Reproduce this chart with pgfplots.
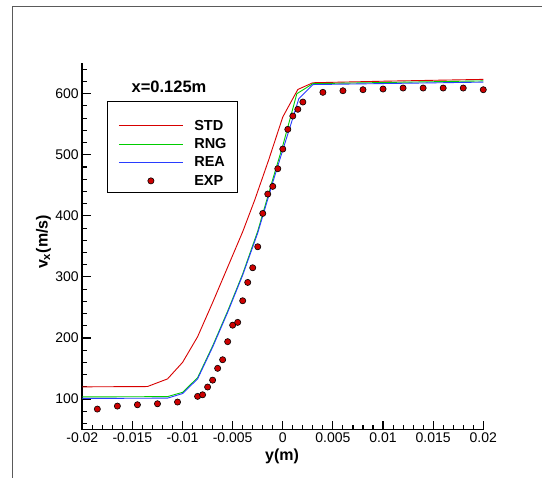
\documentclass[border=0pt]{standalone}
\usepackage{pgfplots}
\pgfplotsset{compat=1.18}
\usepackage{fontspec}
\setmainfont{Liberation Sans}
\pgfplotsset{
  lineimage/.style={legend image code/.code={\path[draw=none,fill=none] (0pt,-1pt) rectangle (64pt,1pt);
    \draw[##1,line width=0.8pt] (0pt,0pt) -- (64pt,0pt);}},
  markimage/.style={legend image code/.code={\path[draw=none,fill=none] (0pt,-1pt) rectangle (64pt,1pt);
    \draw[##1,draw=none] plot coordinates {(32pt,0pt)};}}}
\begin{document}
\begin{tikzpicture}
\definecolor{stdred}{RGB}{215,0,0}
\definecolor{rnggreen}{RGB}{0,205,0}
\definecolor{reablue}{RGB}{40,60,255}
\definecolor{expred}{RGB}{205,0,0}
\definecolor{framegrey}{RGB}{90,90,90}
\begin{axis}[
  at={(0pt,0pt)},anchor=south west,scale only axis,
  width=401pt,height=366.4pt,
  xmin=-0.02,xmax=0.02,ymin=50,ymax=650,
  axis lines=left,axis line style={-,line width=1.8pt},
  tick align=inside,
  major tick length=9pt,minor tick length=5pt,
  every tick/.style={black,line width=1.1pt},
  xtick={-0.02,-0.015,...,0.02},
  minor xtick={-0.02,-0.019,...,0.0205},
  ytick={100,200,...,600},
  minor ytick={60,80,...,640},
  scaled x ticks=false,
  xticklabel style={/pgf/number format/fixed,/pgf/number format/precision=3},
  /pgf/number format/assume math mode=true,
  tick label style={font=\fontsize{14}{16}\selectfont},
  clip=false,
  lineimage,
  legend cell align=left,
  legend style={at={(axis description cs:0.0898,0.8455)},anchor=north west,
    draw=none,fill=none,inner sep=0pt,row sep=6.8pt,column sep=11pt,
    font=\bfseries\fontsize{14.5}{16}\selectfont,
    nodes={inner sep=0pt}},
]
\addplot[stdred,line width=0.9pt] coordinates {(-0.02,120) (-0.0135,120.5) (-0.0115,133) (-0.01,160) (-0.0085,202) (-0.007,258) (-0.0055,316) (-0.004,374) (-0.0028,426) (-0.0014,492) (0,562) (0.0015,607) (0.003,618) (0.01,620.5) (0.02,623.5)};
\addlegendentry{STD}
\addplot[rnggreen,line width=0.9pt] coordinates {(-0.02,103.5) (-0.0115,104) (-0.01,111) (-0.0085,135) (-0.007,187) (-0.0055,244) (-0.004,305) (-0.0025,375) (-0.001,460) (0,515) (0.0014,600) (0.003,616.5) (0.02,621)};
\addlegendentry{RNG}
\addplot[reablue,line width=0.9pt] coordinates {(-0.02,101) (-0.0115,101.5) (-0.01,109) (-0.0085,133) (-0.007,185) (-0.0055,242) (-0.004,303) (-0.0025,372) (-0.001,455) (0,508) (0.001,560) (0.0016,592) (0.003,615) (0.02,619)};
\addlegendentry{REA}
\addplot[only marks,mark=*,mark size=3.1pt,mark options={fill=expred,draw=black,line width=0.6pt},markimage]
  coordinates {(-0.0185,83.6) (-0.0165,88.5) (-0.0145,90.7) (-0.0125,92.3) (-0.0105,95.1)
  (-0.0085,104.4) (-0.008,107) (-0.0075,119.7) (-0.007,131) (-0.0065,150.3) (-0.006,164.4)
  (-0.0055,194) (-0.005,221) (-0.0045,225.6) (-0.004,261) (-0.0035,291) (-0.003,315)
  (-0.0025,349.4) (-0.002,404) (-0.0015,435.7) (-0.001,448.3) (-0.0005,477.2) (0,509.4)
  (0.0005,541.7) (0.001,563.5) (0.0015,574.5) (0.002,586.4) (0.004,602.3) (0.006,604.9)
  (0.008,606.6) (0.010,607.7) (0.012,609.3) (0.014,609.3) (0.016,609.3) (0.018,609.3) (0.020,606.6)};
\addlegendentry{EXP}
\end{axis}
\begin{scope}[shift={(-82.3pt,429.6pt)},x=1pt,y=-1pt]
\useasboundingbox (0,0) rectangle (542,478);
\draw[framegrey,line width=1.4pt] (12.3,478) -- (12.3,6.5) -- (542,6.5);
\draw[black,line width=0.8pt] (107.3,101.7) rectangle (237.3,192.3);
\node[font=\bfseries\fontsize{16.5}{18}\selectfont] at (169,86.7) {x=0.125m};
\node[font=\bfseries\fontsize{16}{18}\selectfont] at (282,456.3) {y(m)};
\node[font=\bfseries\fontsize{16}{18}\selectfont,rotate=90] at (43.5,242) {v\textsubscript{x}(m/s)};
\end{scope}
\end{tikzpicture}
\end{document}
